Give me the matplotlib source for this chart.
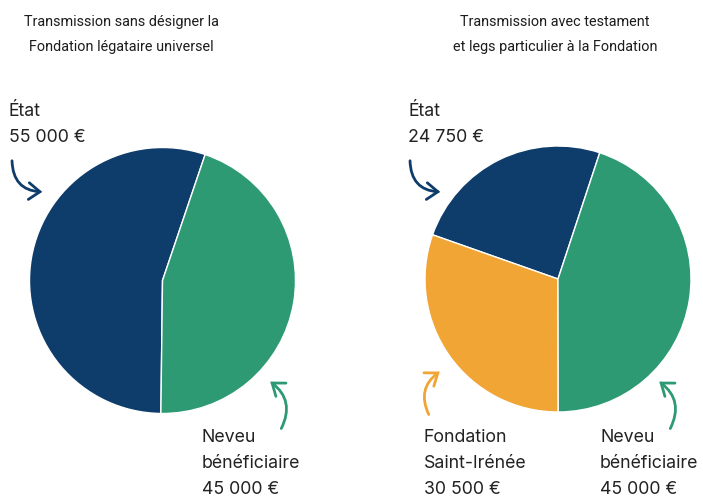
import matplotlib.pyplot as plt
from matplotlib.patches import FancyArrowPatch

W, H = 703, 497

# données
parts_sans = ["État", "Neveu bénéficiaire"]
montants_sans = [55000, 45000]

parts_avec = ["État", "Fondation Saint-Irénée", "Neveu bénéficiaire"]
montants_avec = [24750, 30500, 45000]

bleu = "#0f3d6b"
vert = "#2e9a74"
orange = "#f0a535"
texte = "#222222"

plt.rcParams['font.family'] = ['Inter', 'DejaVu Sans']

fig = plt.figure(figsize=(W / 100, H / 100), dpi=100)


def px(x, y):
    return (x / W, 1 - y / H)


def camembert(cx, cy, r, valeurs, couleurs, start):
    ax = fig.add_axes([(cx - r) / W, 1 - (cy + r) / H, 2 * r / W, 2 * r / H])
    ax.pie(valeurs, colors=couleurs, startangle=start, counterclock=True,
           wedgeprops=dict(edgecolor="white", linewidth=1))
    ax.set_xlim(-1, 1)
    ax.set_ylim(-1, 1)
    ax.set_aspect("equal")
    ax.axis("off")
    return ax


camembert(162.5, 280.5, 133, montants_sans, [bleu, vert], 71.3)
camembert(558, 279, 133, montants_avec, [bleu, orange, vert], 71.7)

# titres
titre = dict(ha="center", va="center", fontsize=10.4, fontweight="normal",
             color="#1c1c1c", family=["Roboto", "DejaVu Sans"])
fig.text(*px(121, 22), "Transmission sans désigner la", **titre)
fig.text(*px(121, 47), "Fondation légataire universel", **titre)
fig.text(*px(555, 22), "Transmission avec testament", **titre)
fig.text(*px(555, 47), "et legs particulier à la Fondation", **titre)


def etiquette(x, y, lignes, pas=25.5):
    for i, l in enumerate(lignes):
        fig.text(*px(x, y + i * pas), l, ha="left", va="center",
                 fontsize=12.8, color=texte)


def montant(v):
    return f"{v:,}".replace(",", " ") + " €"


etiquette(9, 112, ["État", montant(montants_sans[0])])
etiquette(202, 437, ["Neveu", "bénéficiaire", montant(montants_sans[1])], 26)
etiquette(408, 112, ["État", montant(montants_avec[0])])
etiquette(424, 437, ["Fondation", "Saint-Irénée", montant(montants_avec[1])], 26)
etiquette(600, 437, ["Neveu", "bénéficiaire", montant(montants_avec[2])], 26)


def fleche(a, b, rad, couleur):
    p = FancyArrowPatch(px(*a), px(*b), transform=fig.transFigure,
                        connectionstyle=f"arc3,rad={rad}",
                        arrowstyle="->,head_length=0.8,head_width=0.6",
                        color=couleur, linewidth=2, mutation_scale=10,
                        capstyle="round", joinstyle="miter")
    fig.add_artist(p)


fleche((12, 158), (45, 192), 0.5, bleu)
fleche((280, 431), (268, 380), 0.45, vert)
fleche((410, 158), (443, 192), 0.5, bleu)
fleche((430, 417), (442, 370), -0.45, orange)
fleche((669, 431), (657, 380), 0.45, vert)

fig.savefig("out.png", dpi=100)
